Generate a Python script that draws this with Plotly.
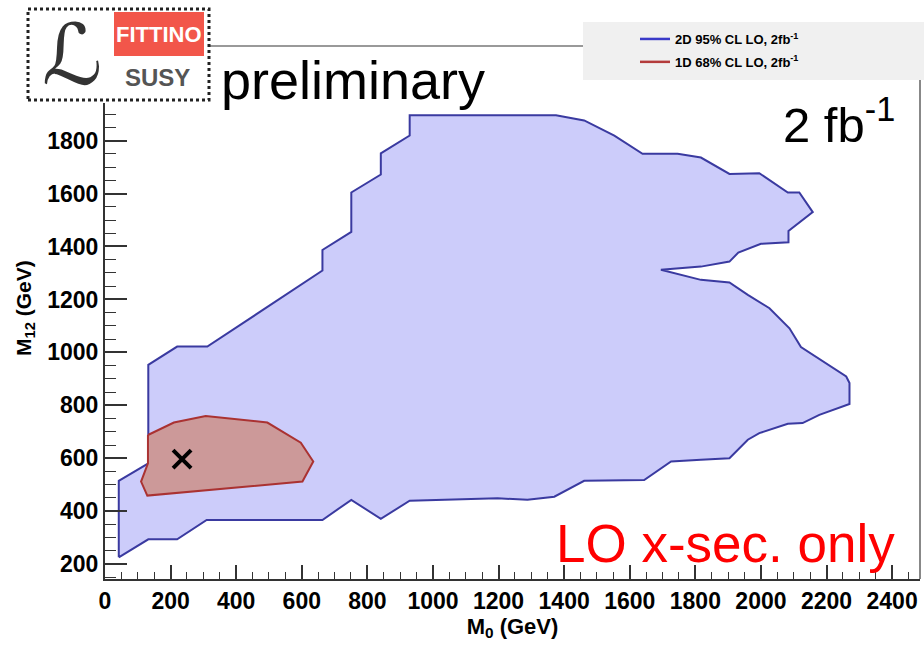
import plotly.graph_objects as go

# ---------------- data ----------------
# 2D 95% CL region (M0, M12) in GeV
cl95_m0 = [42, 42, 132, 132, 220, 312, 663, 663, 751, 751, 841, 841, 929, 929,
           1207, 1375, 1461, 1553, 1639, 1746, 1817, 1904, 1995, 2082, 2117, 2158,
           2084, 2084, 2000, 1931, 1904, 1817, 1695, 1817, 1904, 1960, 2026, 2087,
           2122, 2260, 2270, 2270, 2178, 2127, 2082, 1995, 1960, 1904, 1817, 1726,
           1644, 1461, 1370, 1288, 1197, 929, 841, 751, 663, 310, 220, 132, 42]
cl95_m12 = [226, 515, 581, 953, 1022, 1022, 1309, 1387, 1455, 1604, 1672, 1752, 1819, 1896,
            1896, 1896, 1876, 1819, 1750, 1750, 1736, 1674, 1677, 1604, 1604, 1530,
            1459, 1416, 1410, 1377, 1343, 1324, 1312, 1274, 1264, 1217, 1167, 1091,
            1020, 909, 884, 805, 764, 733, 730, 695, 670, 600, 594, 588,
            518, 515, 455, 443, 449, 440, 371, 443, 367, 367, 294, 294, 226]

# 1D 68% CL region
cl68_m0 = [131, 210, 307, 495, 597, 635, 602, 129, 110, 131, 131]
cl68_m12 = [688, 735, 760, 735, 659, 588, 512, 459, 512, 581, 688]

# best fit point
best_m0 = [235]
best_m12 = [597]

x_ticks = [0, 200, 400, 600, 800, 1000, 1200, 1400, 1600, 1800, 2000, 2200, 2400]
y_ticks = [200, 400, 600, 800, 1000, 1200, 1400, 1600, 1800]

legend_95 = "2D 95% CL LO, 2fb<sup>-1</sup>"
legend_68 = "1D 68% CL LO, 2fb<sup>-1</sup>"

# ---------------- layout geometry ----------------
W, H = 924, 647
ML, MR, MT, MB = 105, 4, 103, 68
PW = W - ML - MR
PH = H - MT - MB


def px(xp):
    return (xp - ML) / PW


def py(yp):
    return (H - MB - yp) / PH


FONT = "Liberation Sans, Arial, sans-serif"

fig = go.Figure()

fig.add_trace(go.Scatter(
    x=cl95_m0, y=cl95_m12, mode="lines", fill="toself",
    fillcolor="rgb(204,204,250)", line=dict(color="rgb(58,58,160)", width=2),
    showlegend=False, hoverinfo="skip"))
fig.add_trace(go.Scatter(
    x=cl68_m0, y=cl68_m12, mode="lines", fill="toself",
    fillcolor="rgb(204,153,153)", line=dict(color="rgb(170,50,50)", width=2),
    showlegend=False, hoverinfo="skip"))
fig.add_trace(go.Scatter(
    x=best_m0, y=best_m12, mode="markers",
    marker=dict(symbol="x-thin", size=18, line=dict(color="black", width=4), color="black"),
    showlegend=False))

# legend entries
fig.add_trace(go.Scatter(x=[None], y=[None], mode="lines", name=legend_95, legendgroup="a",
                         line=dict(color="rgb(58,58,200)", width=2.5)))
fig.add_trace(go.Scatter(x=[None], y=[None], mode="lines", name=legend_68, legendgroup="b",
                         line=dict(color="rgb(180,60,60)", width=2.5)))

axis_common = dict(
    showline=True, linecolor="#333", linewidth=2, showgrid=False, zeroline=False,
    ticks="inside", tickcolor="#333", tickwidth=1.5,
    tickfont=dict(family=FONT, size=23, color="black", weight="bold"),
)

fig.update_xaxes(
    range=[0, 2485], tickvals=x_ticks, ticklen=14,
    minor=dict(dtick=50, tick0=0, ticks="inside", ticklen=7, tickcolor="#333", tickwidth=1.2),
    title=dict(text="M<sub>0</sub> (GeV)", font=dict(family=FONT, size=22, color="black", weight="bold"),
               standoff=4),
    **axis_common)
fig.update_yaxes(
    range=[144, 1942], tickvals=y_ticks, ticklen=22,
    minor=dict(dtick=50, tick0=0, ticks="inside", ticklen=11, tickcolor="#333", tickwidth=1.2),
    **axis_common)

shapes = []
# right frame
shapes.append(dict(type="line", xref="paper", yref="paper", x0=px(920), x1=px(920),
                   y0=0, y1=py(80), line=dict(color="#888", width=2)))
# legend background
shapes.append(dict(type="rect", xref="paper", yref="paper", x0=px(583), x1=px(926),
                   y0=py(80), y1=py(22), fillcolor="#f0f0f0", line=dict(width=0), layer="below"))
# line from logo to legend
shapes.append(dict(type="line", xref="paper", yref="paper", x0=px(210), x1=px(583),
                   y0=py(46), y1=py(46), line=dict(color="#777", width=1.5)))
# logo box
shapes.append(dict(type="rect", xref="paper", yref="paper", x0=px(28), x1=px(209),
                   y0=py(100), y1=py(9), fillcolor="white",
                   line=dict(color="#222", width=3, dash="dot")))
# logo red box
shapes.append(dict(type="rect", xref="paper", yref="paper", x0=px(114), x1=px(204),
                   y0=py(56), y1=py(12), fillcolor="#f2564a", line=dict(width=0)))

annotations = []
annotations.append(dict(xref="paper", yref="paper", x=px(159), y=py(34), text="FITTINO",
                        showarrow=False, xanchor="center", yanchor="middle",
                        font=dict(family=FONT, size=22, color="white", weight="bold")))
annotations.append(dict(xref="paper", yref="paper", x=px(157), y=py(78), text="SUSY",
                        showarrow=False, xanchor="center", yanchor="middle",
                        font=dict(family=FONT, size=24, color="#555", weight="bold")))
annotations.append(dict(xref="paper", yref="paper", x=px(72), y=py(55), text="ℒ",
                        showarrow=False, xanchor="center", yanchor="middle",
                        font=dict(family="DejaVu Serif, DejaVu Sans", size=84, color="#333")))
annotations.append(dict(xref="paper", yref="paper", x=px(219), y=py(80), text="preliminary",
                        showarrow=False, xanchor="left", yanchor="middle",
                        font=dict(family=FONT, size=54, color="black")))
annotations.append(dict(xref="paper", yref="paper", x=px(897), y=py(121), text="2 fb<sup>-1</sup>",
                        showarrow=False, xanchor="right", yanchor="middle",
                        font=dict(family=FONT, size=49, color="black")))
annotations.append(dict(xref="paper", yref="paper", x=px(897), y=py(543), text="LO x-sec. only",
                        showarrow=False, xanchor="right", yanchor="middle",
                        font=dict(family=FONT, size=53, color="red")))
annotations.append(dict(xref="paper", yref="paper", x=px(25), y=py(308), text="M<sub>12</sub> (GeV)",
                        showarrow=False, xanchor="center", yanchor="middle", textangle=-90,
                        font=dict(family=FONT, size=21, color="black", weight="bold")))

fig.update_layout(
    width=W, height=H,
    margin=dict(l=ML, r=MR, t=MT, b=MB, autoexpand=False),
    paper_bgcolor="white", plot_bgcolor="white",
    shapes=shapes, annotations=annotations,
    legend=dict(x=px(635), y=py(24), xanchor="left", yanchor="top",
                bgcolor="rgba(0,0,0,0)", borderwidth=0,
                font=dict(family=FONT, size=13, color="black", weight="bold"),
                itemwidth=30, tracegroupgap=3),
    showlegend=True,
)

fig.write_html("out.html")
